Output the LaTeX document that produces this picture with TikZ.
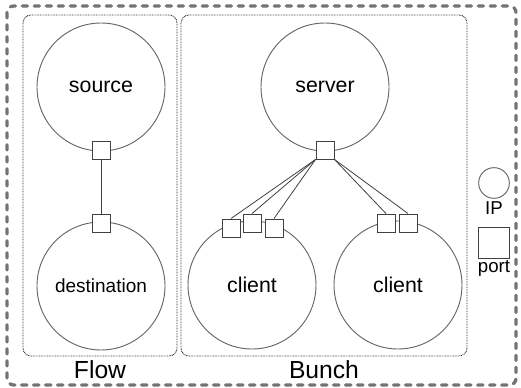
\documentclass[tikz,border=0pt]{standalone}
\usepackage{fontspec}
\setmainfont{Liberation Sans}
\usetikzlibrary{positioning}
\begin{document}
\begin{tikzpicture}[x=0.75pt,y=-0.75pt,
    host/.style={draw=black!60,line width=0.7pt,circle,inner sep=0pt,minimum size=96pt,
      font=\fontsize{16}{18}\selectfont},
    port/.style={draw=black!75,line width=0.7pt,fill=white,inner sep=0pt,minimum size=13.5pt},
    group/.style={draw=black!80,line width=0.7pt,dash pattern=on 0.6pt off 0.6pt,rounded corners=6pt},
    outer/.style={draw=black!55,line width=2.4pt,line cap=round,dash pattern=on 4pt off 5pt,rounded corners=5pt},
    caption/.style={font=\fontsize{18.5}{20}\selectfont},
    legend/.style={font=\fontsize{14}{15}\selectfont,inner sep=0pt}]
  \useasboundingbox (0,0) rectangle (521,388);
  \draw[outer] (7,6) rectangle (516,385);
  \draw[group] (23,15) rectangle (177,356);
  \draw[group] (181,15) rectangle (467,356);
  \draw
    (101,87) node[host] (source){source}
    (101,286) node[host] (dest){\fontsize{14.25}{16}\selectfont destination}
    (325,87) node[host] (server){server}
    (252,285) node[host] (client1){client}
    (398,285) node[host] (client2){client};
  \draw
    (101,150) node[port] (sp){}
    (101,223) node[port] (dp){}
    (325,150) node[port] (svp){}
    (231,228) node[port] (c1a){}
    (252,223) node[port] (c1b){}
    (274,228) node[port] (c1c){}
    (386,223) node[port] (c2a){}
    (408,223) node[port] (c2b){};
  \begin{scope}[draw=black!75,line width=0.6pt]
    \draw (sp) to (dp);
    \draw (svp.south west) to (c1a.north);
    \draw (svp.south west) to (c1b.north);
    \draw (svp.south west) to (c1c.north);
    \draw (svp.south east) to (c2a.north);
    \draw (svp.south east) to (c2b.north);
  \end{scope}
  \node[caption] (flow) at (100,370) {Flow};
  \node[caption] (bunch) at (324,370) {Bunch};
  % legend
  \node[draw=black!60,line width=0.7pt,circle,inner sep=0pt,minimum size=23pt] (ipkey) at (494,183) {};
  \node[legend,below=2pt of ipkey] (iplabel) {IP};
  \node[draw=black!75,line width=0.7pt,inner sep=0pt,minimum size=23pt] (portkey) at (494,243) {};
  \node[legend,below=1pt of portkey] (portlabel) {port};
\end{tikzpicture}
\end{document}
